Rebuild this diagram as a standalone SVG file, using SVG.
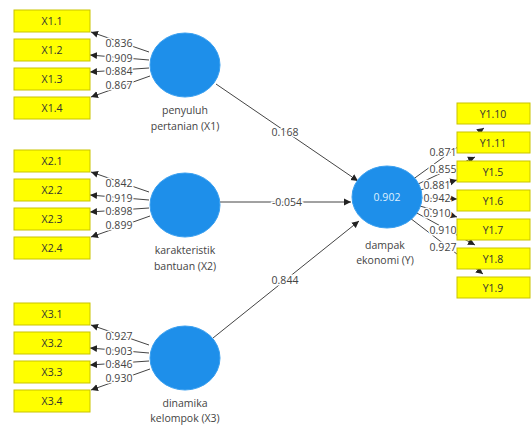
<svg xmlns="http://www.w3.org/2000/svg" width="531" height="426" viewBox="0 0 531 426">
<defs>
<marker id="ah" markerWidth="8" markerHeight="8" refX="7" refY="4" orient="auto" markerUnits="userSpaceOnUse">
<path d="M0,0.5 L7,4 L0,7.5 Z" fill="#222"/>
</marker>
<style>
.bx{fill:#ffff00;stroke:#c9c400;stroke-width:1}
.bt{font-family:"Open Sans","Liberation Sans",sans-serif;font-size:10.5px;fill:#333;text-anchor:middle;dominant-baseline:central}
.lv{fill:#1e8fea;stroke:#3aa0f0;stroke-width:1}
.ll{font-family:"Open Sans","Liberation Sans",sans-serif;font-size:10.5px;fill:#444;text-anchor:middle}
.ln{stroke:#444;stroke-width:1;fill:none;marker-end:url(#ah)}
.cl{font-family:"Open Sans","Liberation Sans",sans-serif;font-size:10.5px;fill:#444;text-anchor:middle;dominant-baseline:central;stroke:#fff;stroke-width:3;paint-order:stroke}
</style>
</defs>
<rect width="531" height="426" fill="#fff"/>
<g id="connectors">
<path class="ln" d="M149,52 L91,32"/>
<path class="ln" d="M149,60 L90,55"/>
<path class="ln" d="M149,68 L90,72"/>
<path class="ln" d="M150,76 L91,97"/>
<path class="ln" d="M149,192 L91,172"/>
<path class="ln" d="M149,200 L90,195"/>
<path class="ln" d="M149,208 L90,212"/>
<path class="ln" d="M150,216 L91,237"/>
<path class="ln" d="M149,345 L91,325"/>
<path class="ln" d="M149,353 L90,348"/>
<path class="ln" d="M149,361 L90,365"/>
<path class="ln" d="M150,369 L91,390"/>
<path class="ln" d="M216,84 L358,181"/>
<path class="ln" d="M220,202 L351,202"/>
<path class="ln" d="M213,338 L359,221"/>
<path class="ln" d="M412,180 L484,128"/>
<path class="ln" d="M416,185 L475,157"/>
<path class="ln" d="M420,190 L457,180"/>
<path class="ln" d="M422,198 L457,199"/>
<path class="ln" d="M420,206 L457,217"/>
<path class="ln" d="M415,212 L475,245"/>
<path class="ln" d="M410,218 L483,274"/>
<text class="cl" x="119" y="43">0.836</text>
<text class="cl" x="119" y="58">0.909</text>
<text class="cl" x="119" y="71">0.884</text>
<text class="cl" x="119" y="85">0.867</text>
<text class="cl" x="119" y="183">0.842</text>
<text class="cl" x="119" y="198">0.919</text>
<text class="cl" x="119" y="211">0.898</text>
<text class="cl" x="119" y="225">0.899</text>
<text class="cl" x="119" y="336">0.927</text>
<text class="cl" x="119" y="351">0.903</text>
<text class="cl" x="119" y="364">0.846</text>
<text class="cl" x="119" y="378">0.930</text>
<text class="cl" x="285" y="132">0.168</text>
<text class="cl" x="287" y="202">-0.054</text>
<text class="cl" x="285" y="280">0.844</text>
<text class="cl" x="443" y="152">0.871</text>
<text class="cl" x="443" y="169">0.855</text>
<text class="cl" x="437" y="185">0.881</text>
<text class="cl" x="437" y="198">0.942</text>
<text class="cl" x="437" y="213">0.910</text>
<text class="cl" x="443" y="230">0.910</text>
<text class="cl" x="443" y="247">0.927</text>
</g>
<g id="X1.1"><rect class="bx" x="14" y="10" width="76" height="22"/><text class="bt" x="52" y="21">X1.1</text></g>
<g id="X1.2"><rect class="bx" x="14" y="39" width="76" height="22"/><text class="bt" x="52" y="50">X1.2</text></g>
<g id="X1.3"><rect class="bx" x="14" y="68" width="76" height="22"/><text class="bt" x="52" y="79">X1.3</text></g>
<g id="X1.4"><rect class="bx" x="14" y="97" width="76" height="22"/><text class="bt" x="52" y="108">X1.4</text></g>
<g id="X2.1"><rect class="bx" x="14" y="150" width="76" height="22"/><text class="bt" x="52" y="161">X2.1</text></g>
<g id="X2.2"><rect class="bx" x="14" y="179" width="76" height="22"/><text class="bt" x="52" y="190">X2.2</text></g>
<g id="X2.3"><rect class="bx" x="14" y="208" width="76" height="22"/><text class="bt" x="52" y="219">X2.3</text></g>
<g id="X2.4"><rect class="bx" x="14" y="237" width="76" height="22"/><text class="bt" x="52" y="248">X2.4</text></g>
<g id="X3.1"><rect class="bx" x="14" y="303" width="76" height="22"/><text class="bt" x="52" y="314">X3.1</text></g>
<g id="X3.2"><rect class="bx" x="14" y="332" width="76" height="22"/><text class="bt" x="52" y="343">X3.2</text></g>
<g id="X3.3"><rect class="bx" x="14" y="361" width="76" height="22"/><text class="bt" x="52" y="372">X3.3</text></g>
<g id="X3.4"><rect class="bx" x="14" y="390" width="76" height="22"/><text class="bt" x="52" y="401">X3.4</text></g>
<g id="Y1.10"><rect class="bx" x="457" y="103" width="73" height="21"/><text class="bt" x="493" y="113.5">Y1.10</text></g>
<g id="Y1.11"><rect class="bx" x="457" y="132" width="73" height="21"/><text class="bt" x="493" y="142.5">Y1.11</text></g>
<g id="Y1.5"><rect class="bx" x="457" y="161" width="73" height="21"/><text class="bt" x="493" y="171.5">Y1.5</text></g>
<g id="Y1.6"><rect class="bx" x="457" y="190" width="73" height="21"/><text class="bt" x="493" y="200.5">Y1.6</text></g>
<g id="Y1.7"><rect class="bx" x="457" y="219" width="73" height="21"/><text class="bt" x="493" y="229.5">Y1.7</text></g>
<g id="Y1.8"><rect class="bx" x="457" y="248" width="73" height="21"/><text class="bt" x="493" y="258.5">Y1.8</text></g>
<g id="Y1.9"><rect class="bx" x="457" y="277" width="73" height="21"/><text class="bt" x="493" y="287.5">Y1.9</text></g>
<g id="X1"><ellipse class="lv" cx="185" cy="65" rx="35" ry="32"/><text class="ll" x="185" y="114">penyuluh</text><text class="ll" x="185" y="130">pertanian (X1)</text></g>
<g id="X2"><ellipse class="lv" cx="185" cy="205" rx="35" ry="32"/><text class="ll" x="185" y="254">karakteristik</text><text class="ll" x="185" y="270">bantuan (X2)</text></g>
<g id="X3"><ellipse class="lv" cx="185" cy="358" rx="35" ry="32"/><text class="ll" x="185" y="407">dinamika</text><text class="ll" x="185" y="422">kelompok (X3)</text></g>
<g id="Y"><ellipse class="lv" cx="387" cy="197" rx="35" ry="31"/><text class="bt" x="387" y="197" style="fill:#dff0ff">0.902</text><text class="ll" x="385" y="249">dampak</text><text class="ll" x="385" y="264">ekonomi (Y)</text></g>
</svg>
